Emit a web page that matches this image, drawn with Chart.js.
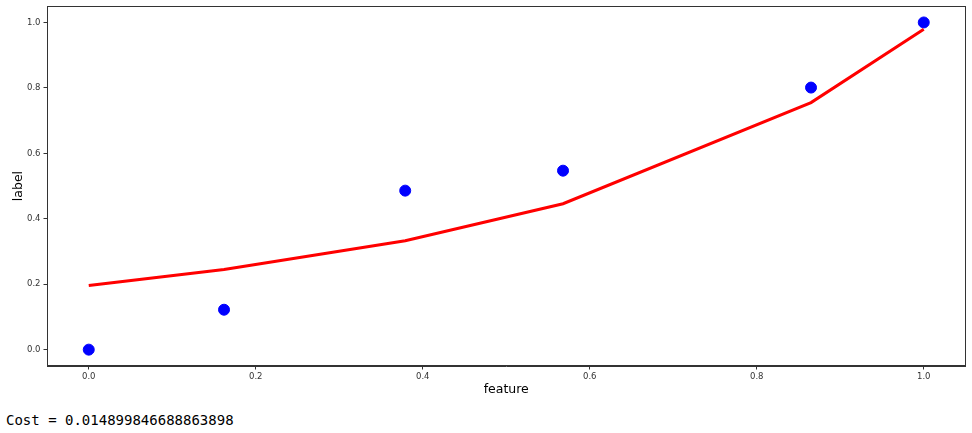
<!DOCTYPE html>
<html>
<head>
<meta charset="utf-8">
<script src="https://cdn.jsdelivr.net/npm/chart.js@4/dist/chart.umd.min.js"></script>
<style>
  html, body { margin: 0; padding: 0; background: #fff; overflow: hidden; }
  #wrap { position: relative; width: 972px; height: 402px; margin-top: -2px; }
  #cost { position: absolute; left: 6px; top: 411px; font: 14px "DejaVu Sans Mono", monospace; color: #000; line-height: 18px; }
</style>
</head>
<body>
<div id="wrap"><canvas id="c"></canvas></div>
<div id="cost">Cost = 0.014899846688863898</div>
<script>
'use strict';

// data
const featureVals = [0.0, 0.162, 0.379, 0.568, 0.865, 1.0];
const labelVals   = [0.0, 0.122, 0.486, 0.547, 0.801, 1.0];
const predVals    = [0.196, 0.245, 0.333, 0.446, 0.755, 0.979];
const tickVals    = [0.0, 0.2, 0.4, 0.6, 0.8, 1.0];

const pts = (ys) => featureVals.map((x, i) => ({ x, y: ys[i] }));

// full box around the plot, like matplotlib spines
const frame = {
  id: 'frame',
  afterDraw(chart) {
    const a = chart.chartArea, ctx = chart.ctx;
    ctx.save();
    ctx.strokeStyle = '#333';
    ctx.lineWidth = 1;
    ctx.strokeRect(Math.round(a.left) + 0.5, Math.round(a.top) + 0.5,
                   Math.round(a.right - a.left) - 1, Math.round(a.bottom - a.top) - 1);
    ctx.restore();
  }
};

const tickFont = { family: 'DejaVu Sans', size: 8.5 };
const titleFont = { family: 'DejaVu Sans', size: 12.5 };
const setTicks = s => { s.ticks = tickVals.map(v => ({ value: v })); };

new Chart(document.getElementById('c'), {
  type: 'scatter',
  data: {
    datasets: [
      { label: 'label', data: pts(labelVals), backgroundColor: '#0000ff', borderColor: '#0000ff',
        pointRadius: 5.5, pointHoverRadius: 5.5, order: 2 },
      { type: 'line', label: 'prediction', data: pts(predVals), borderColor: '#ff0000',
        borderWidth: 3, pointRadius: 0, fill: false, tension: 0, order: 1 }
    ]
  },
  plugins: [frame],
  options: {
    animation: false,
    responsive: true,
    maintainAspectRatio: false,
    layout: { padding: { top: 0, right: 5, left: 0, bottom: 3 } },
    plugins: { legend: { display: false }, tooltip: { enabled: false } },
    scales: {
      x: {
        type: 'linear', min: -0.05, max: 1.05,
        afterBuildTicks: setTicks,
        afterFit: s => { s.height = 31; },
        grid: { drawOnChartArea: false, drawTicks: true, tickLength: 3.5, color: '#333' },
        border: { display: true, color: '#333' },
        ticks: { font: tickFont, color: '#333', padding: 2, maxRotation: 0,
                 callback: v => Number(v).toFixed(1) },
        title: { display: true, text: 'feature', font: titleFont, color: '#000', padding: { top: 1, bottom: 0 } }
      },
      y: {
        type: 'linear', min: -0.05, max: 1.05,
        afterBuildTicks: setTicks,
        afterFit: s => { s.width = 47; },
        grid: { drawOnChartArea: false, drawTicks: true, tickLength: 3.5, color: '#333' },
        border: { display: true, color: '#333' },
        ticks: { font: tickFont, color: '#333', padding: 3,
                 callback: v => Number(v).toFixed(1) },
        title: { display: true, text: 'label', font: titleFont, color: '#000', padding: { top: 11, bottom: 2 } }
      }
    }
  }
});
</script>
</body>
</html>
